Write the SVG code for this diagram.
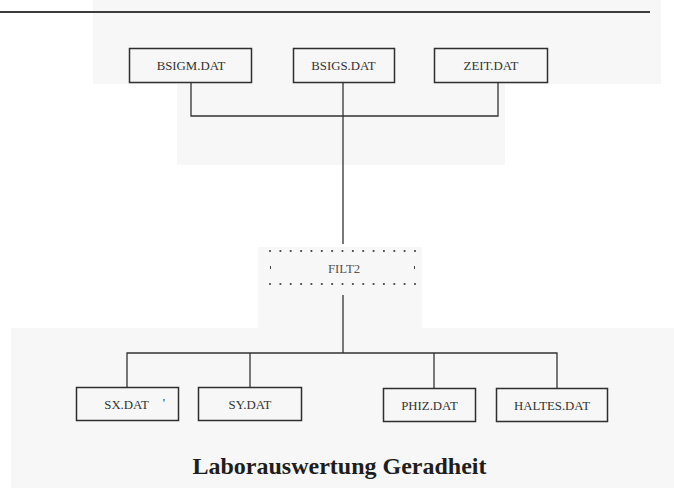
<svg xmlns="http://www.w3.org/2000/svg" width="674" height="488" viewBox="0 0 674 488">
  <style>
    .bg { fill: #f7f7f7; stroke: none; }
    .box { fill: none; stroke: #2e2e2e; stroke-width: 1.5; }
    .lbl { font-family: "Liberation Serif", "Times New Roman", serif; font-size: 12.8px; fill: #333; text-anchor: middle; }
    .wire { fill: none; stroke: #333; stroke-width: 1.3; }
    .dot { fill: #444; }
    .title { font-family: "Liberation Serif", "Times New Roman", serif; font-size: 24px; font-weight: bold; fill: #1e1e1e; text-anchor: middle; }
  </style>

  <!-- paper tone -->
  <rect x="0" y="0" width="674" height="488" fill="#ffffff"/>
  <rect class="bg" x="93" y="0" width="568" height="84"/>
  <rect class="bg" x="177" y="84" width="328" height="81"/>
  <rect class="bg" x="258" y="247" width="164" height="81"/>
  <rect class="bg" x="11" y="328" width="663" height="160"/>

  <!-- header rule -->
  <line x1="0" y1="12" x2="650" y2="12" stroke="#3c3c3c" stroke-width="2"/>

  <!-- connectors -->
  <g id="connectors" class="wire">
    <polyline points="191,83 191,116 498,116 498,83"/>
    <line x1="343" y1="83" x2="343" y2="244"/>
    <line x1="343" y1="295" x2="343" y2="353"/>
    <polyline points="127,387 127,353 557,353 557,388"/>
    <line x1="250" y1="353" x2="250" y2="387"/>
    <line x1="434" y1="353" x2="434" y2="388"/>
  </g>

  <!-- inputs -->
  <g id="bsigm">
    <rect class="box" x="129.5" y="48.5" width="122" height="34"/>
    <text class="lbl" x="191" y="70">BSIGM.DAT</text>
  </g>
  <g id="bsigs">
    <rect class="box" x="293.5" y="48.5" width="101" height="34"/>
    <text class="lbl" x="343.5" y="70">BSIGS.DAT</text>
  </g>
  <g id="zeit">
    <rect class="box" x="434.5" y="48.5" width="113" height="34"/>
    <text class="lbl" x="491" y="70">ZEIT.DAT</text>
  </g>

  <!-- program (dotted frame) -->
  <g id="filt2">
    <g class="dot">
      <circle cx="270" cy="251" r="1.1"/><circle cx="280.4" cy="251" r="1.1"/><circle cx="290.7" cy="251" r="1.1"/>
      <circle cx="301.1" cy="251" r="1.1"/><circle cx="311.4" cy="251" r="1.1"/><circle cx="321.8" cy="251" r="1.1"/>
      <circle cx="332.1" cy="251" r="1.1"/><circle cx="342.5" cy="251" r="1.1"/><circle cx="352.9" cy="251" r="1.1"/>
      <circle cx="363.2" cy="251" r="1.1"/><circle cx="373.6" cy="251" r="1.1"/><circle cx="383.9" cy="251" r="1.1"/>
      <circle cx="394.3" cy="251" r="1.1"/><circle cx="404.6" cy="251" r="1.1"/><circle cx="415" cy="251" r="1.1"/>
      <circle cx="270" cy="284" r="1.1"/><circle cx="280.4" cy="284" r="1.1"/><circle cx="290.7" cy="284" r="1.1"/>
      <circle cx="301.1" cy="284" r="1.1"/><circle cx="311.4" cy="284" r="1.1"/><circle cx="321.8" cy="284" r="1.1"/>
      <circle cx="332.1" cy="284" r="1.1"/><circle cx="342.5" cy="284" r="1.1"/><circle cx="352.9" cy="284" r="1.1"/>
      <circle cx="363.2" cy="284" r="1.1"/><circle cx="373.6" cy="284" r="1.1"/><circle cx="383.9" cy="284" r="1.1"/>
      <circle cx="394.3" cy="284" r="1.1"/><circle cx="404.6" cy="284" r="1.1"/><circle cx="415" cy="284" r="1.1"/>
      <rect x="270" y="266" width="1" height="3"/>
      <rect x="414" y="266" width="1" height="3"/>
    </g>
    <text class="lbl" x="344" y="273" style="fill:#555">FILT2</text>
  </g>

  <!-- outputs -->
  <g id="sx">
    <rect class="box" x="76.5" y="387.5" width="102" height="33"/>
    <text class="lbl" x="126.5" y="409">SX.DAT</text>
    <text class="lbl" x="164" y="407">'</text>
  </g>
  <g id="sy">
    <rect class="box" x="198.5" y="387.5" width="103" height="33"/>
    <text class="lbl" x="250" y="409">SY.DAT</text>
  </g>
  <g id="phiz">
    <rect class="box" x="383.5" y="388.5" width="92" height="33"/>
    <text class="lbl" x="429.5" y="410">PHIZ.DAT</text>
  </g>
  <g id="haltes">
    <rect class="box" x="496.5" y="388.5" width="111" height="33"/>
    <text class="lbl" x="552" y="410">HALTES.DAT</text>
  </g>

  <text class="title" x="339.5" y="474">Laborauswertung Geradheit</text>
</svg>
